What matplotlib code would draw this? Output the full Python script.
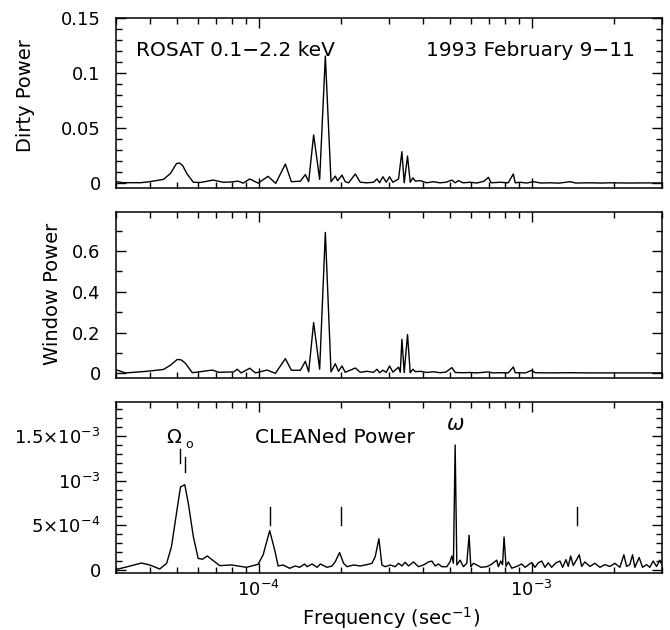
import numpy as np
import matplotlib
matplotlib.use("Agg")
import matplotlib.pyplot as plt
from matplotlib.ticker import MultipleLocator, NullFormatter, FixedLocator

# frequencies in units of 1e-4 sec^-1
DIRTY_FREQ = [
    0.302, 0.318, 0.370, 0.398, 0.448, 0.475, 0.500, 0.513,
    0.527, 0.545, 0.576, 0.612, 0.681, 0.741, 0.788, 0.841,
    0.877, 0.927, 0.995, 1.082, 1.154, 1.252, 1.317, 1.421,
    1.482, 1.524, 1.589, 1.672, 1.754, 1.840, 1.908, 1.945,
    2.018, 2.075, 2.134, 2.259, 2.355, 2.492, 2.634, 2.711,
    2.771, 2.851, 2.932, 3.014, 3.101, 3.252, 3.346, 3.411,
    3.508, 3.589, 3.671, 3.750, 3.903, 4.130, 4.350, 4.619,
    4.850, 5.098, 5.250, 5.389, 5.600, 5.947, 6.300, 6.693,
    6.939, 7.100, 7.656, 8.200, 8.564, 8.700, 9.061, 9.600,
    10.14, 10.80, 11.67, 12.60, 13.81, 14.50, 16.34, 18.00,
    19.34, 22.88, 26.00, 29.97]
DIRTY_POWER = [
    0.0015, 0.0006, 0.0006, 0.0015, 0.0036, 0.0090, 0.0180, 0.0185,
    0.0160, 0.0090, 0.0010, 0.0008, 0.0030, 0.0010, 0.0012, 0.0020,
    0.0002, 0.0040, 0.0002, 0.0064, 0.0000, 0.0175, 0.0015, 0.0020,
    0.0080, 0.0015, 0.0440, 0.0036, 0.1157, 0.0015, 0.0066, 0.0024,
    0.0075, 0.0015, 0.0005, 0.0085, 0.0010, 0.0005, 0.0010, 0.0040,
    0.0005, 0.0060, 0.0010, 0.0060, 0.0010, 0.0040, 0.0288, 0.0005,
    0.0248, 0.0010, 0.0050, 0.0020, 0.0025, 0.0005, 0.0015, 0.0005,
    0.0010, 0.0030, 0.0005, 0.0025, 0.0005, 0.0010, 0.0003, 0.0020,
    0.0055, 0.0005, 0.0010, 0.0005, 0.0085, 0.0005, 0.0010, 0.0003,
    0.0015, 0.0003, 0.0005, 0.0002, 0.0015, 0.0003, 0.0005, 0.0003,
    0.0005, 0.0003, 0.0004, 0.0003]

WINDOW_FREQ = [
    0.302, 0.325, 0.390, 0.448, 0.475, 0.503, 0.520, 0.539,
    0.571, 0.612, 0.676, 0.714, 0.810, 0.834, 0.862, 0.927,
    0.973, 1.073, 1.151, 1.252, 1.317, 1.421, 1.482, 1.524,
    1.589, 1.672, 1.754, 1.840, 1.908, 1.960, 2.018, 2.075,
    2.259, 2.355, 2.492, 2.634, 2.711, 2.771, 2.851, 2.932,
    3.014, 3.101, 3.252, 3.300, 3.346, 3.411, 3.508, 3.589,
    3.671, 3.750, 3.903, 4.130, 4.350, 4.619, 4.850, 5.098,
    5.250, 5.600, 5.947, 6.300, 6.939, 7.200, 7.656, 8.200,
    8.564, 8.700, 9.500, 10.00, 10.30, 11.67, 13.81, 16.34,
    19.34, 22.88, 29.97]
WINDOW_POWER = [
    0.016, 0.002, 0.010, 0.019, 0.040, 0.068, 0.066, 0.049,
    0.003, 0.008, 0.016, 0.005, 0.007, 0.020, 0.002, 0.025,
    0.002, 0.016, 0.000, 0.072, 0.015, 0.015, 0.059, 0.007,
    0.249, 0.020, 0.691, 0.007, 0.047, 0.010, 0.036, 0.005,
    0.026, 0.005, 0.010, 0.005, 0.020, 0.003, 0.015, 0.005,
    0.036, 0.006, 0.030, 0.005, 0.167, 0.003, 0.190, 0.003,
    0.020, 0.008, 0.010, 0.004, 0.008, 0.003, 0.006, 0.028,
    0.004, 0.003, 0.004, 0.002, 0.007, 0.002, 0.003, 0.002,
    0.031, 0.003, 0.002, 0.015, 0.003, 0.002, 0.003, 0.002,
    0.002, 0.002, 0.002]

# CLEANed power in units of 1e-3
CLEAN_FREQ = [
    0.302, 0.324, 0.372, 0.399, 0.434, 0.460, 0.479, 0.500,
    0.517, 0.536, 0.552, 0.576, 0.600, 0.622, 0.648, 0.671,
    0.720, 0.795, 0.902, 0.995, 1.038, 1.097, 1.144, 1.178,
    1.228, 1.298, 1.362, 1.412, 1.473, 1.503, 1.568, 1.636,
    1.682, 1.779, 1.856, 1.908, 1.978, 2.046, 2.106, 2.226,
    2.355, 2.492, 2.599, 2.672, 2.756, 2.827, 2.907, 3.032,
    3.162, 3.252, 3.346, 3.441, 3.538, 3.689, 3.847, 4.013,
    4.186, 4.307, 4.429, 4.554, 4.686, 4.888, 5.025, 5.098,
    5.167, 5.243, 5.318, 5.467, 5.621, 5.784, 5.897, 5.983,
    6.116, 6.293, 6.526, 6.845, 7.097, 7.447, 7.548, 7.702,
    7.820, 7.920, 8.054, 8.212, 8.451, 8.814, 9.192, 9.452,
    10.00, 10.28, 10.57, 10.88, 11.18, 11.50, 11.83, 12.27,
    12.69, 12.98, 13.35, 13.61, 13.89, 14.20, 14.61, 14.93,
    15.24, 15.66, 16.34, 17.04, 17.78, 18.54, 19.34, 20.17,
    21.03, 21.76, 22.26, 22.88, 23.41, 23.87, 24.75, 25.47,
    26.34, 27.08, 27.85, 28.66, 29.46, 29.97]
CLEAN_POWER = [
    0.008, 0.030, 0.078, 0.056, 0.011, 0.075, 0.260, 0.640,
    0.930, 0.955, 0.750, 0.375, 0.130, 0.120, 0.157, 0.120,
    0.049, 0.056, 0.030, 0.064, 0.170, 0.440, 0.225, 0.045,
    0.056, 0.019, 0.045, 0.030, 0.067, 0.037, 0.067, 0.030,
    0.067, 0.030, 0.045, 0.094, 0.195, 0.075, 0.037, 0.056,
    0.045, 0.060, 0.075, 0.150, 0.350, 0.056, 0.037, 0.056,
    0.037, 0.075, 0.045, 0.086, 0.045, 0.090, 0.037, 0.056,
    0.090, 0.100, 0.045, 0.067, 0.037, 0.037, 0.094, 0.157,
    0.075, 1.400, 0.056, 0.110, 0.037, 0.075, 0.390, 0.037,
    0.075, 0.056, 0.030, 0.037, 0.060, 0.110, 0.037, 0.100,
    0.060, 0.370, 0.040, 0.090, 0.020, 0.040, 0.067, 0.030,
    0.084, 0.030, 0.080, 0.100, 0.030, 0.080, 0.030, 0.080,
    0.100, 0.030, 0.116, 0.040, 0.157, 0.050, 0.116, 0.170,
    0.040, 0.090, 0.040, 0.075, 0.030, 0.060, 0.040, 0.075,
    0.030, 0.170, 0.040, 0.060, 0.170, 0.030, 0.140, 0.030,
    0.060, 0.030, 0.100, 0.040, 0.110, 0.060]

# marked frequencies (1e-4 sec^-1)
OMEGA_ORB = 0.536
OMEGA_SPIN = 5.243
MARKER_FREQ = [1.104, 2.0, 14.68]

FS = 13


def style(ax, ylim, major, labels, minor):
    ax.set_xscale("log")
    ax.set_xlim(3.0e-5, 3.0e-3)
    ax.set_ylim(*ylim)
    ax.yaxis.set_major_locator(FixedLocator(major))
    ax.set_yticklabels(labels)
    ax.yaxis.set_minor_locator(MultipleLocator(minor))
    ax.xaxis.set_minor_formatter(NullFormatter())
    ax.tick_params(which="both", direction="in", top=True, right=True,
                   width=1.0, labelsize=FS)
    ax.tick_params(which="major", length=7)
    ax.tick_params(which="minor", length=4)
    ax.tick_params(axis="y", pad=11)
    ax.tick_params(axis="x", pad=5)
    for s in ax.spines.values():
        s.set_linewidth(1.1)


fig = plt.figure(figsize=(6.7, 6.3), dpi=100)
ax1 = fig.add_axes([0.1731, 0.7011, 0.8149, 0.2698])
ax2 = fig.add_axes([0.1731, 0.3995, 0.8149, 0.2644])
ax3 = fig.add_axes([0.1731, 0.0910, 0.8149, 0.2714])

ax1.plot(np.array(DIRTY_FREQ) * 1e-4, DIRTY_POWER, color="k", lw=1.0)
style(ax1, (-0.0045, 0.15), [0, 0.05, 0.1, 0.15], ["0", "0.05", "0.1", "0.15"], 0.01)
ax1.tick_params(labelbottom=False)
ax1.text(0.0366, 0.8135, "ROSAT 0.1\u22122.2 keV", transform=ax1.transAxes,
         ha="left", va="center", fontsize=14.5)
ax1.text(0.9505, 0.8135, "1993 February 9\u221211", transform=ax1.transAxes,
         ha="right", va="center", fontsize=14.5)

ax2.plot(np.array(WINDOW_FREQ) * 1e-4, WINDOW_POWER, color="k", lw=1.0)
style(ax2, (-0.0245, 0.7925), [0, 0.2, 0.4, 0.6], ["0", "0.2", "0.4", "0.6"], 0.1)
ax2.tick_params(labelbottom=False)

ax3.plot(np.array(CLEAN_FREQ) * 1e-4, np.array(CLEAN_POWER) * 1e-3, color="k", lw=1.0)
style(ax3, (-3e-5, 1.885e-3), [0, 5e-4, 1e-3, 1.5e-3],
      ["0", "5\u00d710$^{-4}$", "10$^{-3}$", "1.5\u00d710$^{-3}$"], 1e-4)
ax3.text(0.2546, 0.788, "CLEANed Power", transform=ax3.transAxes,
         ha="left", va="center", fontsize=14.5)

# annotations
ax3.text(0.4916e-4, 1.484e-3, r"$\Omega$", ha="center", va="center", fontsize=14)
ax3.text(0.5546e-4, 1.40e-3, "o", ha="center", va="center", fontsize=9)
ax3.plot([0.5128e-4] * 2, [1.352e-3, 1.202e-3], color="k", lw=1.0)
ax3.plot([OMEGA_ORB * 1e-4] * 2, [1.269e-3, 1.101e-3], color="k", lw=1.0)
for f in MARKER_FREQ:
    ax3.plot([f * 1e-4] * 2, [0.50e-3, 0.70e-3], color="k", lw=1.0)
ax3.text(OMEGA_SPIN * 1e-4, 1.635e-3, r"$\omega$", ha="center", va="center", fontsize=15)

fig.text(0.0388, 0.8476, "Dirty Power", rotation=90, ha="center", va="center", fontsize=14)
fig.text(0.0791, 0.5333, "Window Power", rotation=90, ha="center", va="center", fontsize=14)
fig.text(0.584, 0.019, r"Frequency (sec$^{-1}$)", ha="center", va="center", fontsize=14)

fig.savefig("out.png", dpi=100)
